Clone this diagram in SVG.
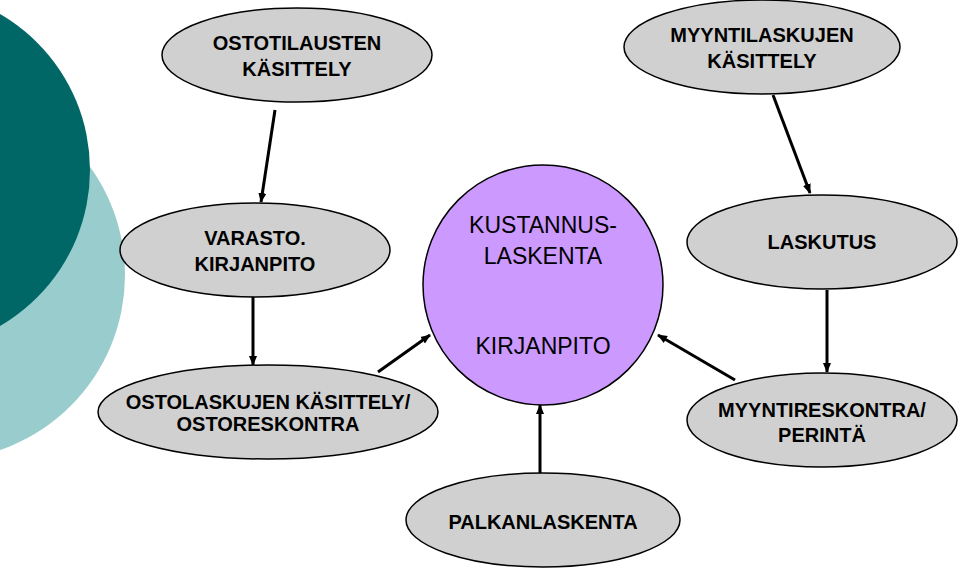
<svg xmlns="http://www.w3.org/2000/svg" width="960" height="571" viewBox="0 0 960 571">
<defs><marker id="ah" markerWidth="10" markerHeight="10" refX="9" refY="5" orient="auto" markerUnits="userSpaceOnUse"><path d="M0,1 L10,5 L0,9 z" fill="#000"/></marker>
<style>.e{fill:#d0d0d0;stroke:#000;stroke-width:1.5}.t{font-family:"Liberation Sans",Arial,sans-serif;font-weight:bold;font-size:20px;text-anchor:middle}.c{font-family:"Liberation Sans",Arial,sans-serif;font-size:23px;text-anchor:middle}.a{stroke:#000;stroke-width:3;marker-end:url(#ah)}</style></defs>
<rect width="960" height="571" fill="#fff"/>
<circle cx="-60" cy="275" r="185" fill="#99cccc"/>
<circle cx="-90" cy="170" r="180" fill="#006666"/>
<g id="connectors">
<line class="a" x1="275" y1="110" x2="261" y2="202"/>
<line class="a" x1="253" y1="290" x2="253" y2="365"/>
<line class="a" x1="378" y1="372" x2="430" y2="335"/>
<line class="a" x1="773" y1="95" x2="810" y2="193"/>
<line class="a" x1="827" y1="290" x2="827" y2="372"/>
<line class="a" x1="735" y1="380" x2="658" y2="335"/>
<line class="a" x1="540" y1="475" x2="540" y2="405"/>
</g>
<g id="n1"><ellipse class="e" cx="297" cy="55" rx="135" ry="47"/><text class="t" x="297" y="50">OSTOTILAUSTEN</text><text class="t" x="297" y="76">KÄSITTELY</text></g>
<g id="n2"><ellipse class="e" cx="255" cy="250" rx="135" ry="47"/><text class="t" x="255" y="245">VARASTO.</text><text class="t" x="255" y="271">KIRJANPITO</text></g>
<g id="n3"><ellipse class="e" cx="268" cy="412" rx="170" ry="47"/><text class="t" x="268" y="409">OSTOLASKUJEN KÄSITTELY/</text><text class="t" x="268" y="431">OSTORESKONTRA</text></g>
<g id="n4"><ellipse class="e" cx="762" cy="47" rx="138" ry="47"/><text class="t" x="762" y="42">MYYNTILASKUJEN</text><text class="t" x="762" y="68">KÄSITTELY</text></g>
<g id="n5"><ellipse class="e" cx="822" cy="242" rx="135" ry="47"/><text class="t" x="822" y="249">LASKUTUS</text></g>
<g id="n6"><ellipse class="e" cx="822" cy="420" rx="135" ry="47"/><text class="t" x="822" y="417">MYYNTIRESKONTRA/</text><text class="t" x="822" y="442">PERINTÄ</text></g>
<g id="n7"><ellipse class="e" cx="543" cy="520" rx="137" ry="47"/><text class="t" x="543" y="529">PALKANLASKENTA</text></g>
<g id="center"><circle cx="543" cy="285" r="120" fill="#cc99ff" stroke="#000" stroke-width="1.5"/><text class="c" x="543" y="233">KUSTANNUS-</text><text class="c" x="543" y="264">LASKENTA</text><text class="c" x="543" y="354">KIRJANPITO</text></g>
</svg>
